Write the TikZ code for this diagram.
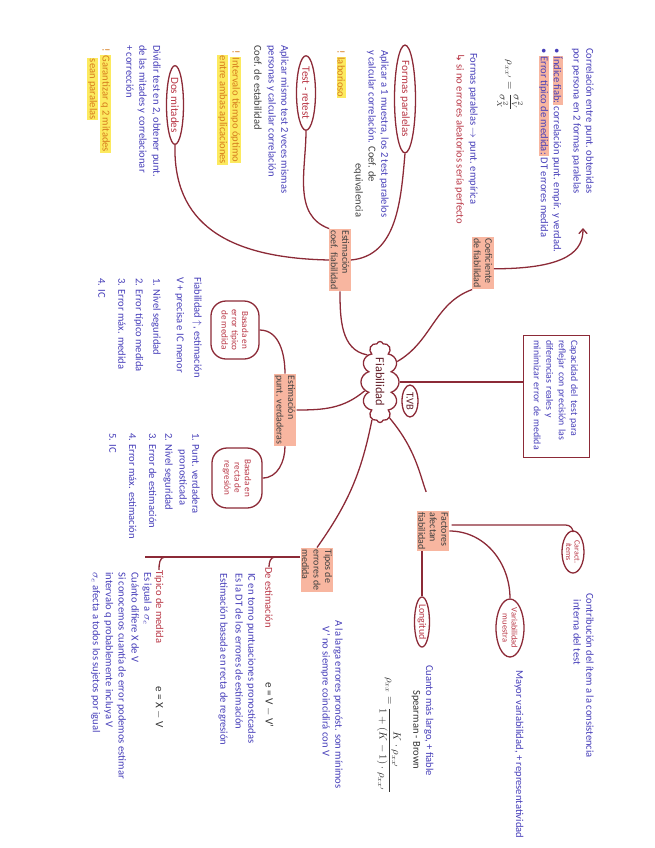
\documentclass[tikz,border=0pt]{standalone}
\usepackage{fontspec}
\usepackage{amsmath}
\setmainfont{Carlito}
\newfontfamily\glyphfont{DejaVu Sans}
\usetikzlibrary{positioning, shapes.geometric, shapes.symbols, arrows.meta}
\definecolor{inkred}{RGB}{140,42,55}
\definecolor{inkblue}{RGB}{70,62,185}
\definecolor{penred}{RGB}{185,55,70}
\definecolor{salmon}{RGB}{248,182,160}
\definecolor{marker}{RGB}{252,234,95}
\definecolor{markink}{RGB}{215,125,30}
\def\px{0.3mm}
\def\lineW{1.1pt}
\def\noteSize{\fontsize{9}{11}\selectfont}
\def\boxSize{\fontsize{8.4}{10.6}\selectfont}
\def\topicSize{\fontsize{8.5}{9.8}\selectfont}
\def\bubbleSize{\fontsize{9.5}{10.5}\selectfont}
\newcommand{\hlS}[1]{{\setlength{\fboxsep}{0.6pt}\colorbox{salmon}{#1}}}
\newcommand{\hlY}[1]{{\setlength{\fboxsep}{0.6pt}\colorbox{marker}{#1}}}
\newcommand{\FiabMapStyles}{
  \tikzset{
    link/.style={draw=inkred, line width=\lineW},
    note/.style={anchor=north west, inner sep=0pt, align=left, text=inkblue, font=\noteSize},
    rednote/.style={note, text=penred},
    inknote/.style={note, text=black!80},
    marknote/.style={note, text=markink},
    topic/.style={fill=salmon, inner sep=1.2pt, align=left, text=black!75, font=\topicSize},
    bubble/.style={ellipse, draw=inkred, line width=\lineW, inner sep=0pt, align=center, text=penred, font=\bubbleSize},
    roundbub/.style={rectangle, rounded corners=4.5mm, draw=inkred, line width=\lineW, inner sep=1pt, align=center, text=penred, font=\fontsize{7.8}{8.8}\selectfont},
    mainbox/.style={rectangle, draw=inkred, line width=0.8pt, inner sep=3pt, align=left, text=inkblue, font=\boxSize},
    core/.style={cloud, cloud puffs=12, cloud ignores aspect, draw=inkred, line width=\lineW, text=inkred!70!black, font=\fontsize{10.5}{12}\selectfont}
  }
}

\begin{document}
\begin{tikzpicture}[
  x=\px, y=\px,
  >={Straight Barb[length=4pt, width=7pt]}
]
  \FiabMapStyles
  \begin{scope}[rotate=-90, transform shape]
  \fill[white] (0,0) rectangle (848,-655);
  \useasboundingbox (0,0) rectangle (848,-655);

  % centre
  \node[core, minimum width=80*\px, minimum height=38*\px] (fiab) at (382,-275) {Fiabilidad};
  \node[bubble, text=inkred!70!black, minimum width=32*\px, minimum height=16*\px, font=\noteSize] (tvb) at (401,-245) {T.VB};
  \node[mainbox, minimum width=122*\px, minimum height=66*\px, text width=112*\px] (capac) at (396,-99)
    {Capacidad del test para\\ reflejar con precisión las\\ diferencias reales y\\ minimizar error de medida};

  % coeficiente
  \node[topic] (coef) at (263,-172) {Coeficiente\\ de fiabilidad};
  \node[note] (corr) at (48,-61) {Correlación entre punt. obtenidas\\ por persona en 2 formas paralelas};
  \node[note, below=2.4mm of corr.south west, anchor=north west] (indice)
    {• \hlS{Índice fiab:} correlación punt. empír. y verdad.\\ • \hlS{Error típico de medida:} DT errores medida};
  \coordinate (corrEnd) at (228,-72);
  \node[inknote, anchor=center] (rhoxx) at (85,-145) {$\rho_{xx'}=\dfrac{\sigma^2_V}{\sigma^2_X}$};
  \node[note] (formpar) at (53,-177) {Formas paralelas $\rightarrow$ punt. empírica};
  \node[rednote, below=1.2mm of formpar.south west, anchor=north west] (noerr) {{\glyphfont ↳} si no errores aleatorios sería perfecto};

  % estimacion coef. fiabilidad
  \node[topic] (estcoef) at (260,-315) {Estimación\\ coef. fiabilidad};
  \node[bubble, minimum width=92*\px, minimum height=21*\px] (formas) at (99,-250) {Formas paralelas};
  \node[note] (formtxt) at (50,-266) {Aplicar a 1 muestra, los 2 test paralelos\\ y calcular correlación. \textcolor{black!75}{Coef. de}\\ \hspace*{34mm}\textcolor{black!75}{equivalencia}};
  \node[marknote] (labor) at (50,-309) {! \hlY{laborioso}};
  \node[bubble, minimum width=74*\px, minimum height=19*\px] (testre) at (93,-349) {Test - retest};
  \node[note] (testtxt) at (45,-366) {Aplicar mismo test 2 veces mismas\\ personas y calcular correlación\\[1pt] \textcolor{black!75}{Coef. de estabilidad}};
  \node[marknote] (interv) at (50,-414) {! \hlY{Intervalo tiempo óptimo}\\ \hspace*{1.5mm}\hlY{entre ambas aplicaciones}};
  \node[bubble, minimum width=66*\px, minimum height=17*\px] (dosmit) at (105,-480) {Dos mitades};
  \node[note] (dostxt) at (45,-494) {Dividir test en 2, obtener punt.\\[1pt] de las mitades y correlacionar\\ + corrección};
  \node[marknote] (garant) at (48,-544) {! \hlY{Garantizar q 2 mitades}\\ \hspace*{3mm}\hlY{sean paralelas}};

  % estimacion punt. verdaderas
  \node[topic] (estpv) at (410,-370) {Estimación\\ punt. verdaderas};
  \node[roundbub, minimum width=58*\px, minimum height=48*\px] (basetm) at (330,-420) {Basada en\\ error típico\\ de medida};
  \node[note] (basetxt) at (277,-453) {Fiabilidad $\uparrow$, estimación\\[4pt] V + precisa e IC menor};
  \node[note] (basenum) at (278,-494) {1. Nivel seguridad\\[4pt] 2. Error típico medida\\[4pt] 3. Error máx. medida\\[6pt] 4. IC};
  \node[roundbub, minimum width=60*\px, minimum height=50*\px] (basereg) at (478,-418) {Basada en\\ recta de\\ regresión};
  \node[note] (regtxt) at (433,-455) {1. Punt. verdadera\\ \hspace*{5mm}pronosticada\\[1pt] 2. Nivel seguridad\\[3pt] 3. Error de estimación\\[6pt] 4. Error máx. estimación\\[6pt] 5. IC};

  % tipos de errores
  \node[topic] (tipos) at (570,-338) {Tipos de\\ errores de\\ medida};
  \node[note] (alarga) at (620,-312) {A la larga errores pronóst. son mínimos\\ \hspace*{2mm}V' no siempre coincidirá con V};
  \node[rednote, anchor=west] (deest) at (567,-386) {De estimación};
  \node[inknote, anchor=center, font=\fontsize{9.5}{11}\selectfont] (eform1) at (705,-386) {e = V $-$ V'};
  \node[note] (detxt) at (573,-399) {IC en torno puntuaciones pronosticadas\\ Es la DT de los errores de estimación\\[2pt] Estimación basada en recta de regresión};
  \node[rednote, anchor=west] (tipmed) at (570,-496) {Típico de medida};
  \node[inknote, anchor=center, font=\fontsize{9.5}{11}\selectfont] (eform2) at (707,-496) {e = X $-$ V};
  \node[note] (tiptxt) at (572,-503) {Es igual a $\sigma_e$\\ Cuánto difiere X de V\\ Si conocemos cuantía de error podemos estimar\\ intervalo q probablemente incluya V\\ $\sigma_e$ afecta a todos los sujetos por igual};
  \coordinate (brEnd) at (557,-510);

  % factores
  \node[topic] (factores) at (531,-222) {Factores\\ afectan\\ fiabilidad};
  \node[bubble, minimum width=42*\px, minimum height=22*\px, font=\fontsize{6.8}{7.2}\selectfont] (caract) at (552,-82) {Caract.\\ ítems};
  \node[note] (caracttxt) at (593,-61) {Contribución del ítem a la consistencia\\ \hspace*{2mm}interna del test};
  \node[bubble, minimum width=58*\px, minimum height=28*\px, font=\fontsize{7.2}{7.7}\selectfont] (variab) at (628,-145) {Variabilidad\\ muestra};
  \node[note, anchor=west] (variabtxt) at (670,-136) {Mayor variabilidad, + representatividad};
  \node[bubble, minimum width=50*\px, minimum height=15*\px, font=\fontsize{8.5}{9}\selectfont] (longit) at (622,-233) {Longitud};
  \node[note, anchor=west] (longtxt) at (665,-226) {Cuanto más largo, + fiable};
  \node[inknote, anchor=west] (spear) at (690,-239) {Spearman - Brown};
  \node[inknote, anchor=center] (sbform) at (735,-266) {$\rho_{xx}=\dfrac{K\cdot\rho_{xx'}}{1+(K-1)\cdot\rho_{xx'}}$};

  % connectors
  \draw[link] (fiab) -- (fiab |- capac.south);
  \draw[link] (fiab.140) to[out=120, in=-70] (coef.south east);
  \draw[link, ->] (coef.62) .. controls +(0,75) and +(22,0) .. (corrEnd);
  \draw[link] (estcoef.east) to[out=0, in=-100] (fiab.205);
  \draw[link] (formas.east) to[out=-5, in=95] (estcoef.north);
  \draw[link] (testre.east) to[out=0, in=-110] (estcoef.south west);
  \draw[link] (dosmit.east) .. controls (222,-482) and (258,-430) .. (estcoef.south);
  \draw[link] (estpv.north) to[out=90, in=-50] (fiab.-60);
  \draw[link] (basetm.north) to[out=90, in=180] (estpv.west);
  \draw[link] (estpv.east) to[out=0, in=90] (basereg.north);
  \draw[link] (fiab.-12) to[bend left=12] (tipos.west);
  \draw[link] (tipos.south -| brEnd) -- (brEnd);
  \draw[link] (brEnd |- deest.west) ++(0,6) to[out=-90, in=180] (deest.west);
  \draw[link] (brEnd |- tipmed.west) ++(0,6) to[out=-90, in=180] (tipmed.west);
  \draw[link, shorten >=6mm] (fiab.15) to[out=40, in=200] (factores.west);
  \draw[link, rounded corners=6pt, shorten <=2pt] (factores.110) |- (caract.west);
  \draw[link] (factores.north) to[out=90, in=180] (variab.west);
  \draw[link] (factores.east |- longit.west) -- (longit.west);
  \end{scope}
\end{tikzpicture}
\end{document}
